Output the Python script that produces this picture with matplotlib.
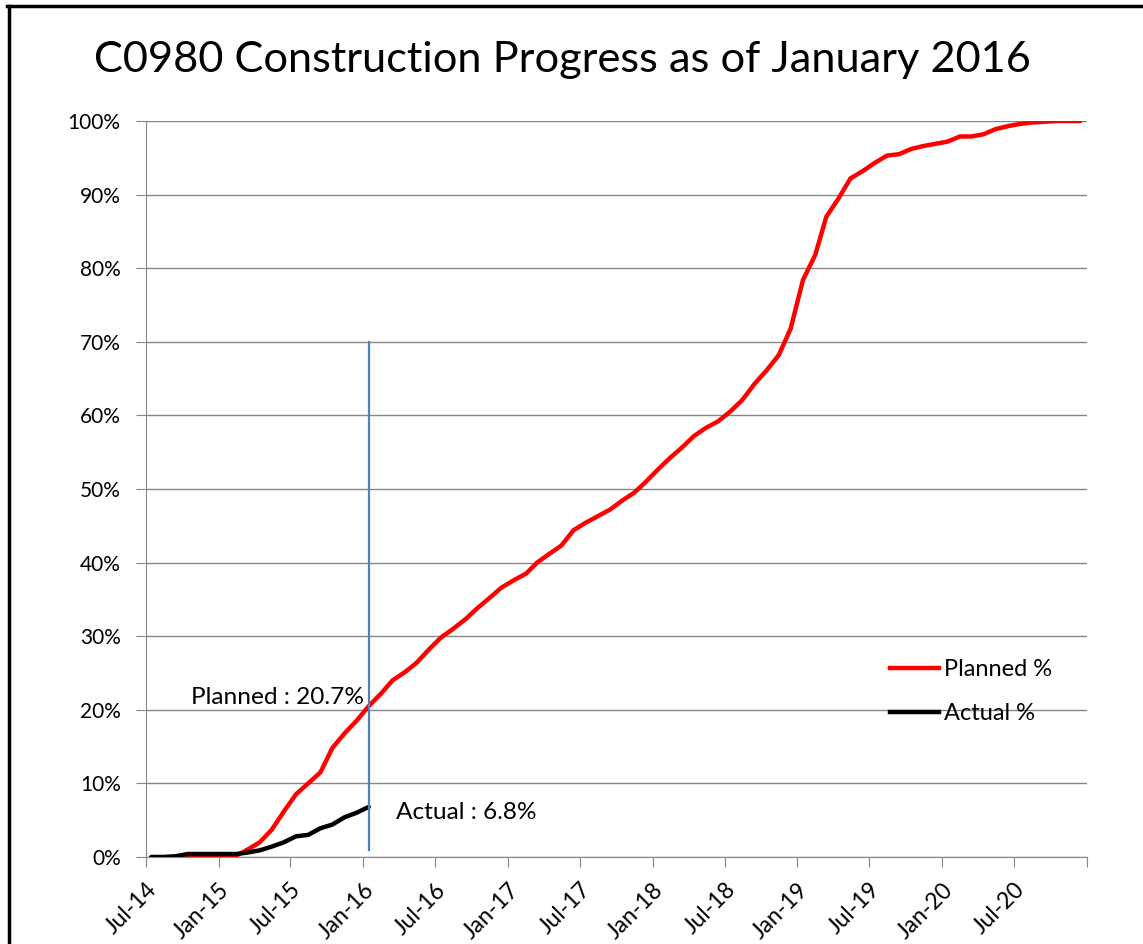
"""
C0980 construction progress: planned vs actual cumulative % complete.
"""
import numpy as np
import pandas as pd
import matplotlib
matplotlib.use("Agg")
import matplotlib.pyplot as plt
from matplotlib.ticker import PercentFormatter
from matplotlib.lines import Line2D

plt.rcParams["font.family"] = ["Lato", "DejaVu Sans"]

OUTPUT = "out.png"
TITLE = "C0980 Construction Progress as of January 2016"

# monthly data points (mid-month)
PLANNED_START = "2014-10-01"
PLANNED = [
    0.0, 0.0, 0.0, 0.0, 0.2, 1.0, 2.0, 3.7, 6.2, 8.5,
    10.0, 11.5, 14.8, 16.8, 18.5, 20.5, 22.2, 24.0, 25.1, 26.4,
    28.2, 29.8, 31.0, 32.3, 33.8, 35.2, 36.6, 37.6, 38.5, 40.0,
    41.2, 42.3, 44.4, 45.4, 46.3, 47.2, 48.4, 49.5, 51.0, 52.7,
    54.3, 55.6, 57.2, 58.3, 59.2, 60.5, 62.1, 64.3, 66.1, 68.2,
    71.8, 78.4, 81.8, 87.0, 89.5, 92.2, 93.2, 94.3, 95.3, 95.5,
    96.2, 96.6, 96.9, 97.2, 97.9, 97.9, 98.2, 98.9, 99.3, 99.6,
    99.8, 99.9, 100.0, 100.0, 100.0,
]
ACTUAL_START = "2014-07-01"
ACTUAL = [
    0.0, 0.0, 0.1, 0.4, 0.4, 0.4, 0.4, 0.4, 0.6, 0.9,
    1.4, 2.0, 2.8, 3.0, 3.9, 4.4, 5.4, 6.0, 6.8,
]
STATUS_DATE = "2016-01-15"
STATUS_LINE = (1.0, 70.0)
PLANNED_NOW = 20.7
ACTUAL_NOW = 6.8

XLIM = ("2014-07-01", "2021-01-01")
YTICKS = np.arange(0, 101, 10)

RED = "#FF0000"
BLACK = "#000000"
BLUE = "#4F81BD"
GRID = "#868686"


def mid_month(start, n):
    return pd.date_range(start, periods=n, freq="MS") + pd.Timedelta(days=14)


if __name__ == "__main__":
    planned_dates = mid_month(PLANNED_START, len(PLANNED))
    actual_dates = mid_month(ACTUAL_START, len(ACTUAL))

    fig = plt.figure(figsize=(11.43, 9.44), dpi=100)
    ax = fig.add_axes([0.1275, 0.0922, 0.951 - 0.1275, 0.8718 - 0.0922])

    ax.plot(planned_dates, PLANNED, color=RED, lw=3.2, solid_capstyle="round",
            label="Planned %", zorder=3)
    ax.plot(actual_dates, ACTUAL, color=BLACK, lw=3.2, solid_capstyle="round",
            label="Actual %", zorder=4)

    status = pd.Timestamp(STATUS_DATE)
    ax.plot([status, status], STATUS_LINE, color=BLUE, lw=1.6, zorder=5)

    ax.text(status - pd.Timedelta(days=12), PLANNED_NOW + 0.9, f"Planned : {PLANNED_NOW}%",
            ha="right", va="center", fontsize=17.6)
    ax.text(status + pd.Timedelta(days=70), ACTUAL_NOW - 0.7, f"Actual : {ACTUAL_NOW}%",
            ha="left", va="center", fontsize=17.6)

    ax.set_xlim(pd.Timestamp(XLIM[0]), pd.Timestamp(XLIM[1]))
    ax.set_ylim(0, 100)

    xticks = pd.date_range(XLIM[0], XLIM[1], freq="6MS")
    xlabels = [d.strftime("%b-%y") for d in xticks[:-1]] + [""]
    ax.set_xticks(xticks)
    ax.set_xticklabels(xlabels, rotation=45, ha="right", va="top",
                       rotation_mode="anchor", fontsize=16.5)
    ax.set_yticks(YTICKS)
    ax.yaxis.set_major_formatter(PercentFormatter(decimals=0))
    ax.tick_params(axis="y", labelsize=15, length=7, color=GRID, pad=11)
    ax.tick_params(axis="x", length=7, color=GRID, pad=9)

    ax.grid(axis="y", color=GRID, lw=1)
    ax.set_axisbelow(True)
    for side in ("top", "right"):
        ax.spines[side].set_visible(False)
    for side in ("left", "bottom"):
        ax.spines[side].set_color(GRID)

    handles = [Line2D([], [], color=RED, lw=3.2), Line2D([], [], color=BLACK, lw=3.2)]
    ax.legend(handles, ["Planned %", "Actual %"], frameon=False, fontsize=17,
              loc="upper left", bbox_to_anchor=(0.768, 0.298),
              handlelength=2.1, handletextpad=0.2, labelspacing=0.99)

    fig.text(0.492, 0.936, TITLE, ha="center", va="center", fontsize=31.2)

    # window-like frame on the top and left edges
    fig.add_artist(Line2D([0.006, 1.0], [0.9935, 0.9935], color="black", lw=2.5,
                          transform=fig.transFigure))
    fig.add_artist(Line2D([0.0075, 0.0075], [0.0, 0.994], color="black", lw=2.5,
                          transform=fig.transFigure))

    plt.savefig(OUTPUT, dpi=100)
